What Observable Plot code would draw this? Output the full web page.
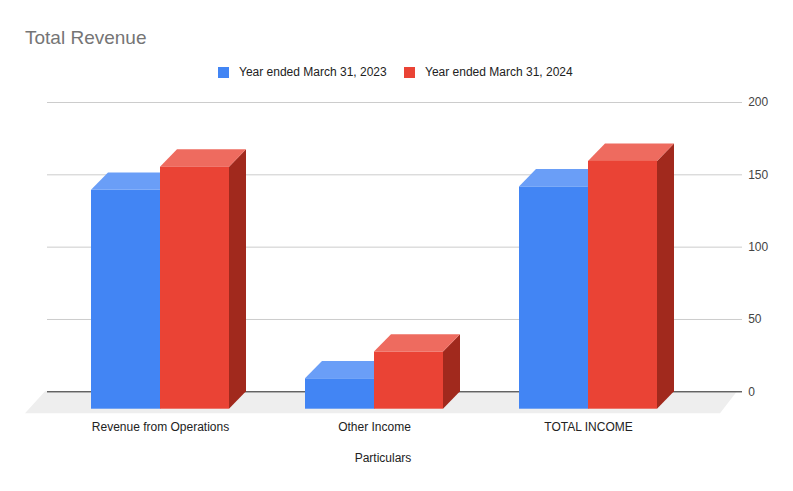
<!DOCTYPE html>
<html><head><meta charset="utf-8">
<script src="https://cdn.jsdelivr.net/npm/d3@7"></script>
<script src="https://cdn.jsdelivr.net/npm/@observablehq/plot@0.6"></script>
<style>
body{margin:0;background:#fff;font-family:"Liberation Sans",Arial,sans-serif;}
#wrap{position:relative;width:793px;height:491px;overflow:hidden;background:#fff;}
#wrap svg{position:absolute;left:0;top:0;}
.title{position:absolute;left:25px;top:28px;font-size:19px;line-height:19px;color:#757575;white-space:nowrap;}
.leg{position:absolute;top:66px;height:12px;display:flex;align-items:center;font-size:12px;line-height:12px;color:#222;white-space:nowrap;}
.leg .sw{display:inline-block;width:11px;height:11px;margin-right:10px;}
.xlabel{position:absolute;left:283px;width:200px;top:452px;text-align:center;font-size:12px;line-height:12px;color:#222;}
</style></head><body><div id="wrap"></div>
<script>
const categories = ["Revenue from Operations", "Other Income", "TOTAL INCOME"];
const series = ["Year ended March 31, 2023", "Year ended March 31, 2024"];
const values2023 = [151.3, 21, 153.6];
const values2024 = [167.3, 39.5, 171.3];
const yTicks = [0, 50, 100, 150, 200];
const frontColors = ["#4285F4", "#EA4335"];
const topColors = ["#6A9EF7", "#EE6B5F"];
const sideColors = ["#2F5EC4", "#A1291D"];
const titleText = "Total Revenue";
const xTitle = "Particulars";

const data = categories.flatMap((c, i) => [
  {category: c, series: series[0], value: values2023[i]},
  {category: c, series: series[1], value: values2024[i]}
]);

const DX = 17, DY = 17.4;
const ns = "http://www.w3.org/2000/svg";

function poly(points, fill) {
  const p = document.createElementNS(ns, "polygon");
  p.setAttribute("points", points.map(d => d.join(",")).join(" "));
  p.setAttribute("fill", fill);
  return p;
}

function bars3d(index, scales, values, dimensions, context, next) {
  const g = next(index, scales, values, dimensions, context);
  const rects = Array.from(g.querySelectorAll("rect"));
  rects.forEach((r, k) => {
    const d = data[index[k]];
    const s = series.indexOf(d.series);
    const x = +r.getAttribute("x"), y = +r.getAttribute("y");
    const w = +r.getAttribute("width"), h = +r.getAttribute("height");
    const side = poly([[x + w, y], [x + w + DX, y - DY], [x + w + DX, y + h - DY], [x + w, y + h]], sideColors[s]);
    const top = poly([[x, y], [x + w, y], [x + w + DX, y - DY], [x + DX, y - DY]], topColors[s]);
    r.parentNode.insertBefore(side, r);
    r.parentNode.insertBefore(top, r);
  });
  return g;
}

function floor(index, scales, values, dimensions) {
  const {width, marginLeft, marginRight} = dimensions;
  const y0 = scales.y(0);
  const left = marginLeft, right = width - marginRight;
  const g = document.createElementNS(ns, "g");
  g.appendChild(poly([
    [left + 15, y0 - DY], [right + 12, y0 - DY],
    [right - 5, y0 + 4.5], [left - 5, y0 + 4.5]
  ], "#EEEEEE"));
  return g;
}

const common = {
  width: 793,
  height: 491,
  marginTop: 119.4,
  marginBottom: 82.3,
  marginLeft: 30,
  marginRight: 68,
  style: {fontFamily: "'Liberation Sans', Arial, sans-serif", fontSize: "12px", color: "#222", background: "transparent"},
  y: {domain: [0, 200], axis: null}
};

// Back wall: floor, gridlines, zero line, right-hand value labels
const back = Plot.plot({
  ...common,
  marks: [
    Plot.frame({stroke: "none", render: floor}),
    Plot.gridY(yTicks, {stroke: "#CCCCCC", strokeOpacity: 1, dx: DX, dy: -DY}),
    Plot.ruleY([0], {stroke: "#333333", dx: DX, dy: -DY}),
    Plot.text(yTicks, {y: d => d, text: d => String(d), frameAnchor: "right", textAnchor: "start", dx: 22.7, dy: -DY, fill: "#444", fontSize: 12})
  ]
});

// Front: grouped 3D bars with category axis
const front = Plot.plot({
  ...common,
  fx: {domain: categories, range: [53, 695], padding: 0, axis: "bottom", tickSize: 0, tickPadding: 13, label: null},
  x: {domain: series, paddingInner: 0, paddingOuter: 0.5507, axis: null},
  color: {domain: series, range: frontColors},
  marks: [
    Plot.barY(data, {fx: "category", x: "series", y1: 0, y2: "value", fill: "series", render: bars3d})
  ]
});

const wrap = document.getElementById("wrap");
wrap.appendChild(back);
wrap.appendChild(front);

const t = document.createElement("div");
t.className = "title"; t.textContent = titleText; wrap.appendChild(t);

const legLefts = [218, 404];
series.forEach((s, i) => {
  const item = document.createElement("div");
  item.className = "leg";
  item.style.left = legLefts[i] + "px";
  const sw = document.createElement("span");
  sw.className = "sw"; sw.style.background = frontColors[i];
  const tx = document.createElement("span");
  tx.textContent = s;
  item.appendChild(sw); item.appendChild(tx);
  wrap.appendChild(item);
});

const xl = document.createElement("div");
xl.className = "xlabel"; xl.textContent = xTitle; wrap.appendChild(xl);
</script></body></html>
